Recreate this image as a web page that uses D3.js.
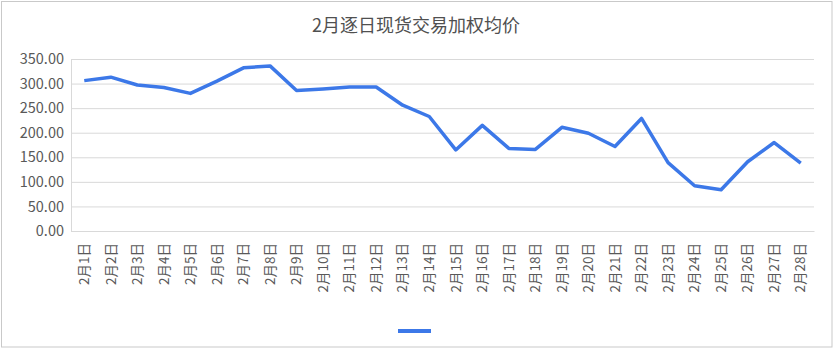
<!DOCTYPE html>
<html>
<head>
<meta charset="utf-8">
<script src="https://cdn.jsdelivr.net/npm/d3@7"></script>
<style>
  html, body { margin: 0; padding: 0; background: #fff; }
  svg { display: block; }
</style>
</head>
<body>
<svg id="chart" width="833" height="358"></svg>
<script>
const title = "2月逐日现货交易加权均价";
const categories = ["2月1日","2月2日","2月3日","2月4日","2月5日","2月6日","2月7日","2月8日","2月9日","2月10日",
  "2月11日","2月12日","2月13日","2月14日","2月15日","2月16日","2月17日","2月18日","2月19日","2月20日",
  "2月21日","2月22日","2月23日","2月24日","2月25日","2月26日","2月27日","2月28日"];
const values = [306, 313, 297, 292, 280, 305, 332, 336, 286, 289,
  293, 293, 256, 233, 165, 215, 168, 166, 211, 199,
  172, 229, 139, 92, 84, 141, 180, 138];
const yTicks = [0, 50, 100, 150, 200, 250, 300, 350];

const svg = d3.select("#chart");
const W = 833, H = 358;
const m = { left: 71, right: 19, top: 59, bottom: 127 };
const plotW = W - m.left - m.right;

const fontFam = "'Noto Sans CJK SC', 'Noto Sans', sans-serif";
const textColor = "#595959";

// outer border
svg.append("rect").attr("x", 1.5).attr("y", 1.5).attr("width", 830.5).attr("height", 345.5)
  .attr("fill", "#fff").attr("stroke", "#c9c9c9").attr("stroke-width", 1);

// title
svg.append("text").attr("x", 416).attr("y", 32).attr("text-anchor", "middle")
  .attr("font-family", fontFam).attr("font-size", 18).attr("font-weight", 400)
  .attr("fill", "#505050").text(title);

const x = d3.scaleBand().domain(categories).range([m.left, m.left + plotW]);
const y = d3.scaleLinear().domain([0, 350]).range([231, m.top]);

// grid
const gGrid = svg.append("g")
  .attr("transform", `translate(${m.left},0)`)
  .call(d3.axisLeft(y).tickValues(yTicks).tickSize(-plotW).tickFormat(""));
gGrid.select(".domain").remove();
gGrid.selectAll("line").attr("stroke", "#d9d9d9").attr("stroke-width", 1);

// y axis labels
const gY = svg.append("g")
  .attr("transform", `translate(${m.left},0)`)
  .call(d3.axisLeft(y).tickValues(yTicks).tickSize(0).tickPadding(7).tickFormat(d3.format(".2f")));
gY.select(".domain").attr("stroke", "#d9d9d9");
gY.selectAll("text").attr("font-family", fontFam).attr("font-size", 14.5).attr("fill", textColor);

// x axis
const gX = svg.append("g")
  .attr("transform", `translate(0,231)`)
  .call(d3.axisBottom(x).tickSize(0).tickSizeOuter(0));
gX.select(".domain").attr("stroke", "#d9d9d9");
gX.selectAll("text")
  .attr("font-family", fontFam).attr("font-size", 13.5).attr("fill", textColor)
  .attr("transform", "rotate(-90)")
  .attr("text-anchor", "end")
  .attr("x", -12).attr("y", 0).attr("dy", "0.35em");

// line
const line = d3.line()
  .x((d, i) => x(categories[i]) + x.bandwidth() / 2)
  .y(d => y(d));
svg.append("path").datum(values)
  .attr("fill", "none").attr("stroke", "#3c78e8").attr("stroke-width", 3.5)
  .attr("stroke-linejoin", "round")
  .attr("d", line);

// legend
svg.append("line").attr("x1", 398).attr("x2", 431).attr("y1", 331).attr("y2", 331)
  .attr("stroke", "#3c78e8").attr("stroke-width", 4);
</script>
</body>
</html>
